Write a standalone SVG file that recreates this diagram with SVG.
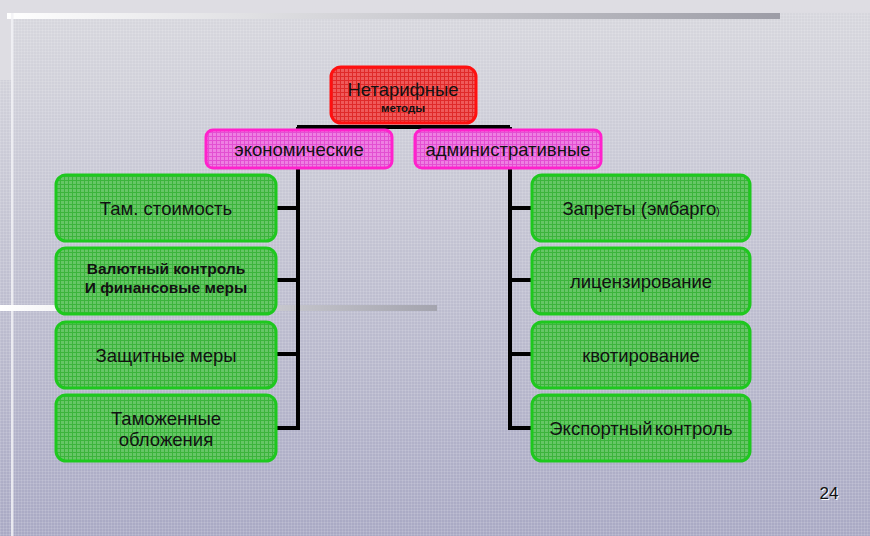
<svg xmlns="http://www.w3.org/2000/svg" width="870" height="536" viewBox="0 0 870 536">
<defs>
<linearGradient id="bg" x1="0" y1="0" x2="0" y2="1">
<stop offset="0" stop-color="#d8d8de"/>
<stop offset="1" stop-color="#a9a9c4"/>
</linearGradient>
<linearGradient id="bar" x1="0" y1="0" x2="1" y2="0">
<stop offset="0" stop-color="#ffffff"/>
<stop offset="1" stop-color="#9c9ca6"/>
</linearGradient>
<linearGradient id="bar2" x1="0" y1="0" x2="1" y2="0">
<stop offset="0" stop-color="#ffffff"/>
<stop offset="0.15" stop-color="#f4f4f6"/>
<stop offset="1" stop-color="#a4a4ae"/>
</linearGradient>
<pattern id="grid" width="3" height="3" patternUnits="userSpaceOnUse">
<path d="M0 0.5H3M0.5 0V3" stroke="#ffffff" stroke-opacity="0.12" stroke-width="1"/>
</pattern>
<pattern id="gG" width="4" height="4" patternUnits="userSpaceOnUse">
<rect width="4" height="4" fill="#66c666"/>
<path d="M0 0.5H4M0.5 0V4" stroke="#3cb43c" stroke-width="1"/>
</pattern>
<pattern id="gR" width="4" height="4" patternUnits="userSpaceOnUse">
<rect width="4" height="4" fill="#ef5a5a"/>
<path d="M0 0.5H4M0.5 0V4" stroke="#e02a2a" stroke-width="1"/>
</pattern>
<pattern id="gM" width="4" height="4" patternUnits="userSpaceOnUse">
<rect width="4" height="4" fill="#ee7fe2"/>
<path d="M0 0.5H4M0.5 0V4" stroke="#e34fd2" stroke-width="1"/>
</pattern>
</defs>
<style>
text{font-family:"Liberation Sans",Arial,sans-serif;fill:#111;text-anchor:middle}
.g{fill:url(#gG);stroke:#1ec81e;stroke-width:3}
.r{fill:url(#gR);stroke:#ff1010;stroke-width:3}
.m{fill:url(#gM);stroke:#ff22cc;stroke-width:3}
.t{font-size:18.5px}
.b{font-size:15.5px;font-weight:bold}
.c{stroke:#000;stroke-width:4;fill:none}
</style>
<rect width="870" height="536" fill="url(#bg)"/>
<rect width="870" height="536" fill="url(#grid)"/>
<rect width="870" height="13" fill="#dedde3"/>
<rect width="12" height="80" fill="#dedde3"/>
<rect x="7" y="13" width="773" height="6" fill="url(#bar)"/>
<rect x="11" y="13" width="2.5" height="523" fill="#f2f2f6" opacity="0.85"/>
<rect x="0" y="305" width="437" height="6" fill="url(#bar2)"/>

<g id="connectors">
<path class="c" d="M297 127H510"/>
<path class="c" d="M298 127V430M276 208H298M276 280H298M276 354H298M276 428H298"/>
<path class="c" d="M510 127V430M510 208H532M510 280H532M510 354H532M510 428H532"/>
</g>

<g id="root"><rect class="r" x="331" y="67" width="145" height="56" rx="10"/>
<text class="t" x="403" y="96">Нетарифные</text>
<text x="403" y="112" style="font-size:11.5px;font-weight:bold">методы</text></g>

<g id="econ"><rect class="m" x="206" y="130" width="186" height="38" rx="7"/>
<text class="t" x="299" y="156">экономические</text></g>
<g id="admin"><rect class="m" x="415" y="130" width="186" height="38" rx="7"/>
<text class="t" x="508" y="156">административные</text></g>

<g id="l1"><rect class="g" x="56" y="175" width="220" height="66" rx="10"/>
<text class="t" x="166" y="215">Там. стоимость</text></g>
<g id="l2"><rect class="g" x="56" y="248" width="220" height="66" rx="10"/>
<text class="b" x="166" y="274">Валютный контроль</text>
<text class="b" x="166" y="293">И финансовые меры</text></g>
<g id="l3"><rect class="g" x="56" y="322" width="220" height="66" rx="10"/>
<text class="t" x="166" y="362">Защитные меры</text></g>
<g id="l4"><rect class="g" x="56" y="395" width="220" height="66" rx="10"/>
<text class="t" x="166" y="425">Таможенные</text>
<text class="t" x="166" y="446">обложения</text></g>

<g id="r1"><rect class="g" x="532" y="175" width="218" height="66" rx="10"/>
<text class="t" x="641" y="215">Запреты (эмбарго<tspan style="font-size:10px">)</tspan></text></g>
<g id="r2"><rect class="g" x="532" y="248" width="218" height="66" rx="10"/>
<text class="t" x="641" y="288">лицензирование</text></g>
<g id="r3"><rect class="g" x="532" y="322" width="218" height="66" rx="10"/>
<text class="t" x="641" y="362">квотирование</text></g>
<g id="r4"><rect class="g" x="532" y="395" width="218" height="66" rx="10"/>
<text class="t" x="641" y="435" style="word-spacing:-3px">Экспортный контроль</text></g>

<text x="830" y="500" style="font-size:17px;fill:#fff">24</text>
<text x="829" y="499" style="font-size:17px">24</text>
</svg>
